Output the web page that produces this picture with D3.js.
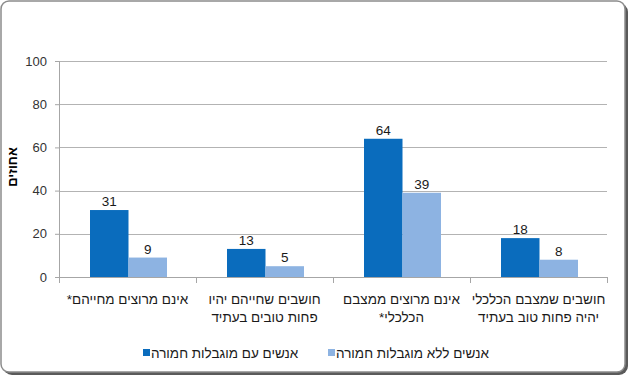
<!DOCTYPE html>
<html lang="he">
<head>
<meta charset="utf-8">
<script src="https://cdn.jsdelivr.net/npm/d3@7/dist/d3.min.js"></script>
<style>
  html, body { margin: 0; padding: 0; background: #fff; }
  svg { display: block; font-family: "Liberation Sans", "DejaVu Sans", Arial, sans-serif; }
</style>
</head>
<body>
<svg id="chart" width="630" height="377"></svg>
<script>
// קטגוריות (כל תווית בשתי שורות לכל היותר)
const categories = [
  ["אינם מרוצים מחייהם*"],
  ["חושבים שחייהם יהיו", "פחות טובים בעתיד"],
  ["אינם מרוצים ממצבם", "הכלכלי*"],
  ["חושבים שמצבם הכלכלי", "יהיה פחות טוב בעתיד"]
];
const seriesNames = ["אנשים עם מוגבלות חמורה", "אנשים ללא מוגבלות חמורה"];
const withDisability = [31, 13, 64, 18];
const withoutDisability = [9, 5, 39, 8];
const yTicks = [0, 20, 40, 60, 80, 100];
const yTitle = "אחוזים";

const colors = ["#0a6cbd", "#8db3e2"];
const margin = { top: 61, right: 23, bottom: 100, left: 59 };
const width = 630, height = 377;
const innerW = width - margin.left - margin.right;
const innerH = height - margin.top - margin.bottom;
const RLM = "\u200F"; // שומר את הכוכבית בצד שמאל

const svg = d3.select("#chart");

// מסגרת התרשים עם צל
svg.append("rect")
  .attr("x", 3).attr("y", 3)
  .attr("width", 625).attr("height", 372)
  .attr("rx", 9)
  .attr("fill", "#5a5a5a");
svg.append("rect")
  .attr("x", 1).attr("y", 1)
  .attr("width", 624).attr("height", 371)
  .attr("rx", 8)
  .attr("fill", "#fff")
  .attr("stroke", "#8c8c8c")
  .attr("stroke-width", 1.5);

const g = svg.append("g").attr("transform", `translate(${margin.left},${margin.top})`);

const x0 = d3.scaleBand().domain(d3.range(categories.length)).range([0, innerW]).paddingInner(0).paddingOuter(0);
const x1 = d3.scaleBand().domain([0, 1]).range([31, x0.bandwidth() - 29]);
const y = d3.scaleLinear().domain([0, 100]).range([innerH, 0]);

// קווי רשת
g.selectAll(".grid").data(yTicks.slice(1)).enter().append("line")
  .attr("x1", 0).attr("x2", innerW)
  .attr("y1", d => Math.round(y(d)) + 0.5).attr("y2", d => Math.round(y(d)) + 0.5)
  .attr("stroke", "#b3b3b3");

// ציר Y
const yAxis = g.append("g").call(d3.axisLeft(y).tickValues(yTicks).tickSize(4).tickPadding(8));
yAxis.select(".domain").attr("stroke", "#a6a6a6");
yAxis.selectAll(".tick line").attr("stroke", "#a6a6a6");
yAxis.selectAll("text").attr("font-size", 13).attr("fill", "#333").attr("font-family", null);

// ציר X
const xAxis = g.append("g").attr("transform", `translate(0,${innerH})`);
xAxis.append("line").attr("x1", 0).attr("x2", innerW).attr("y1", 0.5).attr("y2", 0.5).attr("stroke", "#a6a6a6");
xAxis.selectAll(".xt").data(d3.range(categories.length + 1)).enter().append("line")
  .attr("x1", d => Math.round(d * x0.bandwidth()) + 0.5)
  .attr("x2", d => Math.round(d * x0.bandwidth()) + 0.5)
  .attr("y1", 0).attr("y2", 6)
  .attr("stroke", "#a6a6a6");

xAxis.selectAll(".xl").data(categories).enter().append("text")
  .attr("text-anchor", "middle")
  .attr("direction", "rtl")
  .attr("font-size", 13.5)
  .attr("fill", "#1a1a1a")
  .attr("transform", (d, i) => `translate(${x0(i) + x0.bandwidth() / 2},0)`)
  .selectAll("tspan").data(d => d).enter().append("tspan")
  .attr("x", 0)
  .attr("y", (d, i) => 27 + i * 18)
  .text(d => d + RLM);

// עמודות
const rows = categories.map((c, i) => [withDisability[i], withoutDisability[i]]);
const groups = g.selectAll(".cat").data(rows).enter().append("g")
  .attr("transform", (d, i) => `translate(${x0(i)},0)`);

groups.selectAll("rect").data(d => d).enter().append("rect")
  .attr("x", (d, j) => x1(j))
  .attr("width", x1.bandwidth())
  .attr("y", d => y(d))
  .attr("height", d => innerH - y(d))
  .attr("fill", (d, j) => colors[j]);

groups.selectAll("text").data(d => d).enter().append("text")
  .attr("x", (d, j) => x1(j) + x1.bandwidth() / 2)
  .attr("y", d => y(d) - 4)
  .attr("text-anchor", "middle")
  .attr("font-size", 13.5)
  .attr("fill", "#1a1a1a")
  .text(d => d);

// כותרת ציר Y
svg.append("text")
  .attr("transform", `translate(17,167) rotate(-90)`)
  .attr("text-anchor", "middle")
  .attr("font-size", 13)
  .attr("font-weight", "bold")
  .attr("fill", "#000")
  .text(yTitle);

// מקרא
const legendItems = [
  { name: seriesNames[0], color: colors[0], x: 143 },
  { name: seriesNames[1], color: colors[1], x: 328 }
];
const legend = svg.append("g").attr("transform", "translate(0,353)");
legendItems.forEach(it => {
  legend.append("rect").attr("x", it.x).attr("y", -4).attr("width", 7).attr("height", 7).attr("fill", it.color);
  legend.append("text")
    .attr("x", it.x + 8).attr("y", 5)
    .attr("direction", "rtl")
    .attr("text-anchor", "end")
    .attr("font-size", 13.5)
    .attr("fill", "#1a1a1a")
    .text(it.name);
});
</script>
</body>
</html>
